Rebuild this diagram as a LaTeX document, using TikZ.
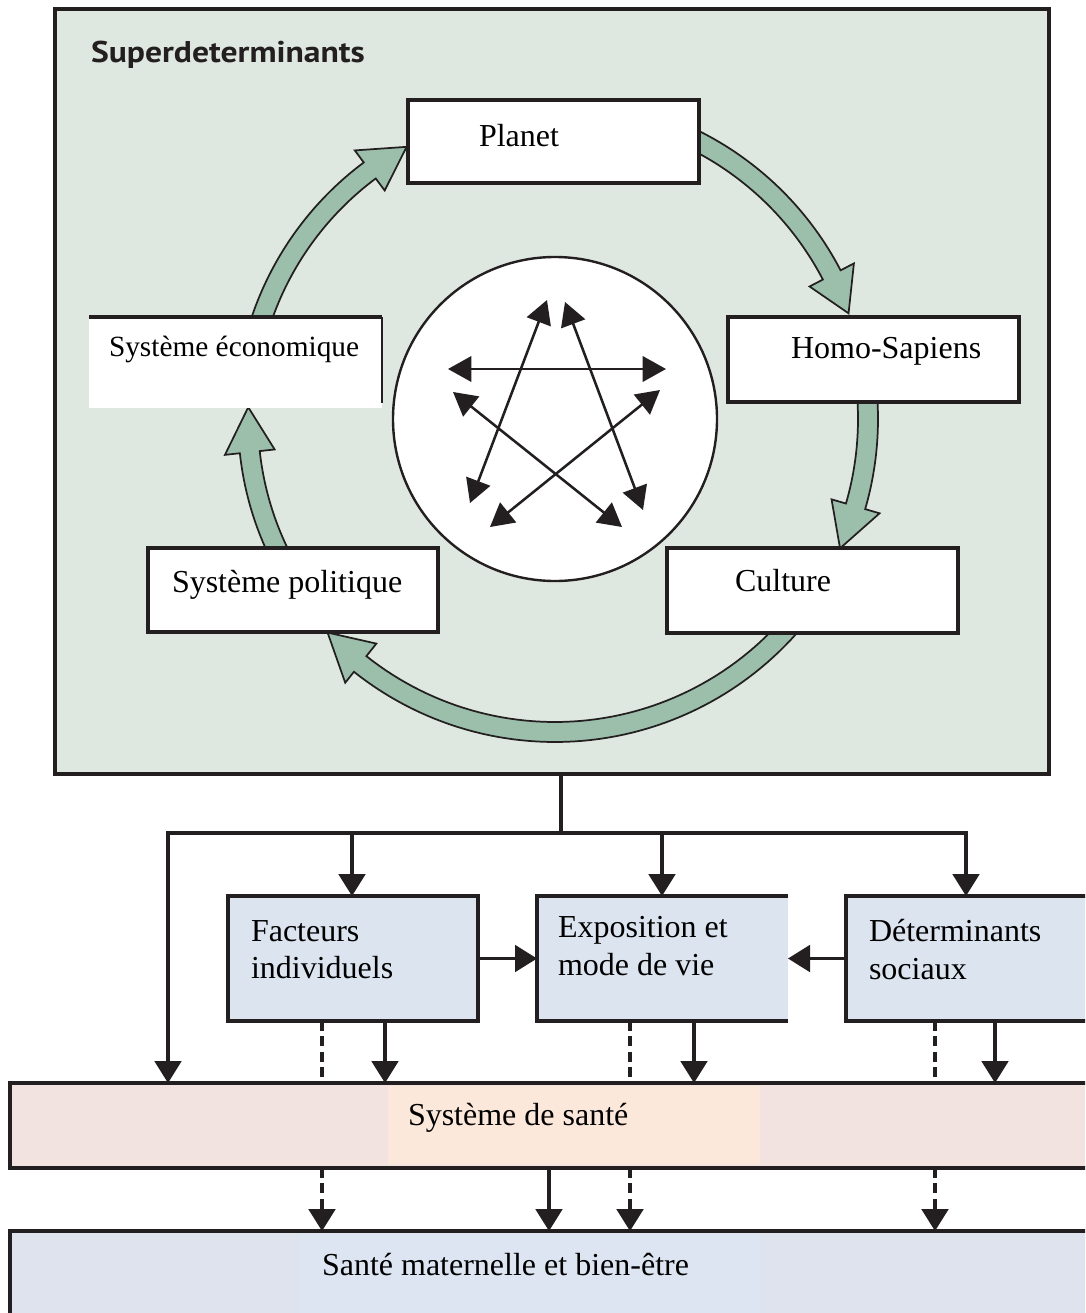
\documentclass[tikz,border=0pt]{standalone}
\usepackage{fontspec}
\setmainfont{Liberation Serif}
\newfontfamily\titlefont{PT Sans}[FakeStretch=1.12]
\usetikzlibrary{arrows.meta,fit}
\definecolor{ink}{HTML}{231F20}
\definecolor{panelgreen}{HTML}{DFE8E0}
\definecolor{bandgreen}{HTML}{9BBFAA}
\definecolor{boxblue}{HTML}{DCE4F0}
\definecolor{pinkband}{HTML}{F2E3E1}
\definecolor{peach}{HTML}{FCE8DB}
\definecolor{matband}{HTML}{DEE3EE}
\definecolor{matinner}{HTML}{DCE5F1}
\begin{document}
\begin{tikzpicture}[x=0.75pt,y=-0.75pt,
  every node/.style={inner sep=0pt, outer sep=0pt},
  whitebox/.style={draw=ink, line width=2.4pt, fill=white},
  bluebox/.style={fill=boxblue},
  lbl/.style={anchor=base west, font=\fontsize{24pt}{28pt}\selectfont, text=black},
  conn/.style={draw=ink, line width=2.3pt},
  boxedge/.style={draw=ink, line width=2.6pt},
  solidarrow/.style={conn, -{Triangle[length=16.5pt,width=20pt]}},
  dashline/.style={draw=ink, line width=2.5pt, dash pattern=on 7.5pt off 4pt},
  dasharrow/.style={dashline, -{Triangle[length=16.5pt,width=20pt]}},
  stararrow/.style={draw=ink, line width=1.9pt, {Triangle[length=17.5pt,width=19pt]}-{Triangle[length=17.5pt,width=19pt]}},
  greenarrow/.style={fill=bandgreen, draw=ink, line width=1.3pt, line join=miter},
]
\useasboundingbox (0,0) rectangle (1085,1313);
\clip (0,0) rectangle (1085,1313);
\fill[white] (0,0) rectangle (1085,1313);

% ---------- upper panel ----------
\node[fit={(55,9) (1049,774)}, draw=ink, fill=panelgreen, line width=2.6pt] (panel) {};
\node[anchor=base west, font=\titlefont\bfseries\fontsize{22.5pt}{26pt}\selectfont, text=ink] (title) at (91,63) {Superdeterminants};

% ---------- green cycle arrows ----------
\begin{scope}[shift={(555,419)}]
  \filldraw[greenarrow] plot[domain=-70:-27.5, samples=40, variable=\t] (\t:322)
    -- (-27.5:337) -- (-19.8:312) -- (-27.5:287)
    -- plot[domain=-27.5:-70, samples=40, variable=\t] (\t:302) -- cycle;
  \filldraw[greenarrow] plot[domain=-8:16.2, samples=30, variable=\t] (\t:323)
    -- (16.2:338) -- (24.4:313) -- (16.2:288)
    -- plot[domain=16.2:-8, samples=30, variable=\t] (\t:303) -- cycle;
  \filldraw[greenarrow] plot[domain=40:128.5, samples=60, variable=\t] (\t:323)
    -- (128.5:337) -- (136.8:312) -- (128.5:287)
    -- plot[domain=128.5:40, samples=60, variable=\t] (\t:303) -- cycle;
  \filldraw[greenarrow] plot[domain=150:173.8, samples=30, variable=\t] (\t:317)
    -- (173.8:332) -- (182.2:307) -- (173.8:282)
    -- plot[domain=173.8:150, samples=30, variable=\t] (\t:297) -- cycle;
  \filldraw[greenarrow] plot[domain=195:233.3, samples=40, variable=\t] (\t:320)
    -- (233.3:335) -- (241.4:310) -- (233.3:285)
    -- plot[domain=233.3:195, samples=40, variable=\t] (\t:300) -- cycle;
\end{scope}

% ---------- central circle with star ----------
\node[circle, draw=ink, fill=white, line width=1.8pt, minimum size=243pt] (hub) at (555,419) {};
\coordinate (sA1) at (470,503); \coordinate (sA2) at (547,300);
\coordinate (sB1) at (565,302); \coordinate (sB2) at (643,510);
\coordinate (sC1) at (448,369); \coordinate (sC2) at (666,369);
\coordinate (sD1) at (453,392); \coordinate (sD2) at (622,527);
\coordinate (sE1) at (660,390); \coordinate (sE2) at (490,527);
\draw[stararrow] (sA1) -- (sA2);
\draw[stararrow] (sB1) -- (sB2);
\draw[stararrow] (sC1) -- (sC2);
\draw[stararrow] (sD1) -- (sD2);
\draw[stararrow] (sE1) -- (sE2);

% ---------- cycle boxes ----------
\node[fit={(408,100) (699,183)}, whitebox] (planet) {};
\node[fit={(728,317) (1019,402)}, whitebox] (homo) {};
\node[fit={(667,548) (958,633)}, whitebox] (culture) {};
\node[fit={(148,548) (438,632)}, whitebox] (politique) {};
\node[fit={(89,317) (382,408)}, fill=white] (eco) {};
\draw[boxedge] (eco.north west) -- (eco.north east);
\draw[draw=ink, line width=0.9pt] (eco.north east) -- ([yshift=4pt]eco.south east);

\node[lbl] (planetL) at (479,146) {Planet};
\node[lbl] (homoL) at (791,358) {Homo-Sapiens};
\node[lbl] (cultureL) at (735,591) {Culture};
\node[lbl] (politiqueL) at (172,592) {Système politique};
\node[lbl, font=\fontsize{22pt}{26pt}\selectfont] (ecoL) at (109,356) {Système économique};

% ---------- lower boxes ----------
\node[fit={(228,896) (478,1021)}, bluebox, boxedge] (facteurs) {};
\node[fit={(537,896) (788,1021)}, bluebox] (expo) {};
\draw[boxedge] (expo.north east) -- (expo.north west) -- (expo.south west) -- (expo.south east);
\node[fit={(846,896) (1100,1021)}, bluebox] (determ) {};
\draw[boxedge] (determ.north east) -- (determ.north west) -- (determ.south west) -- (determ.south east);

\node[lbl] (facteursL1) at (251,941) {Facteurs};
\node[lbl] (facteursL2) at (251,978) {individuels};
\node[lbl] (expoL1) at (558,937) {Exposition et};
\node[lbl] (expoL2) at (558,975) {mode de vie};
\node[lbl] (determL1) at (869,941) {Déterminants};
\node[lbl] (determL2) at (869,979) {sociaux};

\node[fit={(10,1083) (1100,1168)}, fill=pinkband, boxedge] (sante) {};
\node[fit={(388,1086) (760,1164)}, fill=peach] (santeInner) {};
\node[lbl] (santeL) at (408,1125) {Système de santé};

\node[fit={(10,1231) (1100,1330)}, fill=matband, boxedge] (mat) {};
\node[fit={(301,1234) (761,1330)}, fill=matinner] (matInner) {};
\node[lbl] (matL) at (322,1275) {Santé maternelle et bien-être};

% ---------- connectors ----------
\coordinate (stem) at (561,776);
\coordinate (split) at (561,833);
\coordinate (hl) at (168,833);
\coordinate (hr) at (966,833);
\coordinate (j1) at (352,833);
\coordinate (j2) at (662,833);
\draw[conn] (stem) -- (split);
\draw[solidarrow] (split) -- (hl) -- (hl |- sante.north);
\draw[solidarrow] (split) -- (hr) -- (hr |- determ.north);
\draw[solidarrow] (j1) -- (j1 |- facteurs.north);
\draw[solidarrow] (j2) -- (j2 |- expo.north);
\draw[solidarrow] (facteurs.east) -- (expo.west);
\draw[solidarrow] (determ.west) -- (expo.east);

\draw[dashline] (facteurs.south -| 322,0) -- (sante.north -| 322,0);
\draw[solidarrow] (facteurs.south -| 385,0) -- (sante.north -| 385,0);
\draw[dashline] (expo.south -| 630,0) -- (sante.north -| 630,0);
\draw[solidarrow] (expo.south -| 694,0) -- (sante.north -| 694,0);
\draw[dashline] (determ.south -| 935,0) -- (sante.north -| 935,0);
\draw[solidarrow] (determ.south -| 995,0) -- (sante.north -| 995,0);

\draw[dasharrow] (sante.south -| 322,0) -- (mat.north -| 322,0);
\draw[solidarrow] (sante.south -| 549,0) -- (mat.north -| 549,0);
\draw[dasharrow] (sante.south -| 630,0) -- (mat.north -| 630,0);
\draw[dasharrow] (sante.south -| 935,0) -- (mat.north -| 935,0);
\end{tikzpicture}
\end{document}
